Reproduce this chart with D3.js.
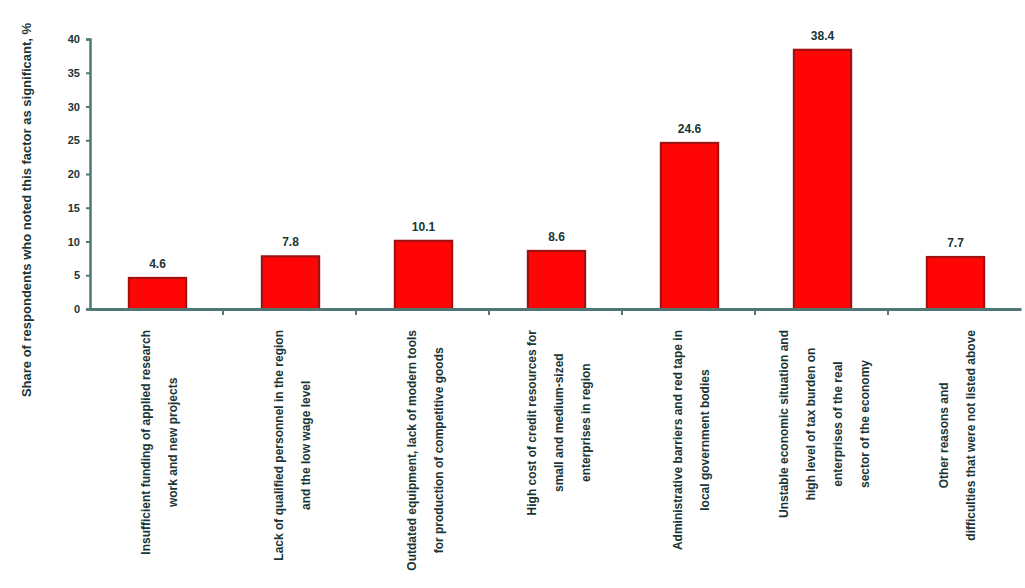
<!DOCTYPE html>
<html><head><meta charset="utf-8">
<script src="https://cdn.jsdelivr.net/npm/d3@7"></script>
<style>
body{margin:0;background:#fff;}
text{font-family:"Liberation Sans",Arial,sans-serif;}
</style></head>
<body><svg id="c" width="1025" height="588"></svg>
<script>
const categories = ["c1","c2","c3","c4","c5","c6","c7"];
const labelLines = [
  ["Insufficient funding of applied research","work and new projects"],
  ["Lack of qualified personnel in the region","and the low wage level"],
  ["Outdated equipment, lack of modern tools","for production of competitive goods"],
  ["High cost of credit resources for","small and medium-sized","enterprises in region"],
  ["Administrative barriers and red tape in","local government bodies"],
  ["Unstable economic situation and","high level of tax burden on","enterprises of the real","sector of the economy"],
  ["Other reasons and","difficulties that were not listed above"]
];
const values = [4.6, 7.8, 10.1, 8.6, 24.6, 38.4, 7.7];
const yTicks = [0,5,10,15,20,25,30,35,40];
const yTitle = "Share of respondents who noted this factor as significant, %";

const svg = d3.select("#c");
const M = {left:90, right:1021, top:39, bottom:309};
const textCol = "#1a3535", axisCol = "#4f7874";

const x = d3.scaleBand().domain(categories).range([M.left, M.right]).padding(0);
const y = d3.scaleLinear().domain([0,40]).range([M.bottom, M.top]);
const barW = x.bandwidth()*0.43;

svg.selectAll("rect.bar").data(values).join("rect")
  .attr("class","bar")
  .attr("x",(d,i)=>x(categories[i])+x.bandwidth()/2-barW/2+1)
  .attr("y",d=>y(d))
  .attr("width",barW)
  .attr("height",d=>y(0)-y(d))
  .attr("fill","#ff0505")
  .attr("stroke","#a01212")
  .attr("stroke-width",2.2);

svg.selectAll("text.val").data(values).join("text")
  .attr("class","val")
  .attr("x",(d,i)=>x(categories[i])+x.bandwidth()/2+1)
  .attr("y",d=>y(d)-10)
  .attr("text-anchor","middle")
  .attr("font-size",12).attr("font-weight","bold")
  .attr("fill",textCol)
  .text(d=>d3.format(".1f")(d));

const ya = svg.append("g").attr("transform",`translate(${M.left},0)`)
  .call(d3.axisLeft(y).tickValues(yTicks).tickSize(4).tickPadding(6).tickFormat(d3.format("d")));
ya.select(".domain").attr("stroke",axisCol).attr("stroke-width",2.5);
ya.selectAll(".tick line").attr("stroke",axisCol).attr("stroke-width",2);
ya.selectAll(".tick text").attr("font-size",11).attr("font-weight","bold").attr("fill",textCol)
  .style("font-family","Liberation Sans, Arial, sans-serif");

const xa = svg.append("g").attr("transform",`translate(0,${M.bottom})`)
  .call(d3.axisBottom(x).tickSize(0).tickFormat(""));
xa.select(".domain").attr("stroke",axisCol).attr("stroke-width",3);
xa.selectAll(".tick").remove();
xa.selectAll("line.sep").data(categories.slice(1)).join("line")
  .attr("class","sep")
  .attr("x1",d=>x(d)).attr("x2",d=>x(d))
  .attr("y1",0).attr("y2",6)
  .attr("stroke",axisCol).attr("stroke-width",2);

const lh = 27;
const lg = svg.append("g");
labelLines.forEach((lines,i)=>{
  const cx = x(categories[i])+x.bandwidth()/2 + 3;
  const g = lg.append("g");
  const t = g.append("text")
    .attr("text-anchor","middle")
    .attr("font-size",12).attr("font-weight","bold")
    .attr("fill",textCol);
  lines.forEach((ln,j)=>{
    t.append("tspan").attr("x",0).attr("y",(j-(lines.length-1)/2)*lh+4).text(ln);
  });
  const w = d3.max(t.selectAll("tspan").nodes(), n=>n.getComputedTextLength());
  g.attr("transform",`translate(${cx},${330 + w/2}) rotate(-90)`);
});

svg.append("text")
  .attr("transform","translate(31,210) rotate(-90)")
  .attr("text-anchor","middle")
  .attr("font-size",13).attr("font-weight","bold")
  .attr("fill",textCol)
  .text(yTitle);
</script></body></html>
